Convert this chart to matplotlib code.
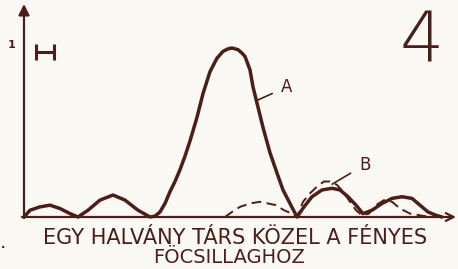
import matplotlib
matplotlib.use("Agg")
import matplotlib.pyplot as plt

# Curve A (bright star, solid): position vs relative intensity
a_x = [0, 6, 16, 26, 36, 46, 54, 64, 76, 89, 101, 114, 126, 131, 136, 141, 146, 151, 156,
       161, 166, 173, 179, 186, 193, 199, 204, 208, 214, 218, 221, 226, 229, 234, 239,
       246, 253, 259, 266, 273, 280, 288, 298, 308, 316, 324, 332, 339, 348, 358, 368,
       378, 388, 396, 404, 412, 418]
a_i = [0.0, 0.04, 0.06, 0.07, 0.05, 0.02, 0.0, 0.04, 0.10, 0.13, 0.10, 0.04, 0.0, 0.005,
       0.03, 0.08, 0.15, 0.21, 0.28, 0.36, 0.45, 0.59, 0.73, 0.86, 0.94, 0.98, 0.995, 1.0,
       0.99, 0.97, 0.95, 0.87, 0.77, 0.65, 0.53, 0.38, 0.26, 0.16, 0.08, 0.0, 0.06, 0.12,
       0.16, 0.17, 0.16, 0.12, 0.07, 0.02, 0.04, 0.08, 0.11, 0.12, 0.11, 0.07, 0.03, 0.01,
       0.0]

# Curve B (faint companion, dashed)
b_x = [201, 208, 216, 226, 236, 244, 252, 260, 268, 273, 279, 286, 293, 300, 306, 313,
       319, 326, 332, 338, 345, 352, 360, 368, 376, 386, 396, 406]
b_i = [0.0, 0.03, 0.06, 0.08, 0.09, 0.08, 0.07, 0.04, 0.02, 0.0, 0.09, 0.14, 0.18, 0.21,
       0.21, 0.19, 0.15, 0.09, 0.04, 0.01, 0.02, 0.07, 0.10, 0.09, 0.05, 0.02, 0.01, 0.0]

label_a = "A"
label_b = "B"
fig_number = "4"
caption_1 = "EGY HALVÁNY TÁRS KÖZEL A FÉNYES"
caption_2 = "FÖCSILLAGHOZ"
y_tick_label = "1"
scale_bar_center = 21
scale_bar_half = 9
scale_bar_level = 0.975

ink = "#4b1e1a"
paper = "#fbf9f4"

fig = plt.figure(figsize=(4.58, 2.69), dpi=100, facecolor=paper)
ax = fig.add_axes([0, 0, 1, 1])
ax.set_facecolor(paper)
ax.set_xlim(-24, 434)
ax.set_ylim(-0.3077, 1.284)
ax.axis("off")

# axes arrows
ax.annotate("", xy=(0, 1.26), xytext=(0, -0.006),
            arrowprops=dict(arrowstyle="-|>", lw=1.6, color=ink, mutation_scale=16,
                            shrinkA=0, shrinkB=0))
ax.annotate("", xy=(432, 0.0), xytext=(-2, 0.0),
            arrowprops=dict(arrowstyle="->", lw=1.6, color=ink, mutation_scale=14,
                            shrinkA=0, shrinkB=0))

ax.plot(a_x, a_i, color=ink, lw=2.5, solid_capstyle="round", solid_joinstyle="round")
ax.plot(b_x, b_i, color=ink, lw=1.4, ls=(0, (5, 2.8)))

# scale bar marker near the y axis
ax.errorbar([scale_bar_center], [scale_bar_level], xerr=[scale_bar_half], color=ink,
            lw=2.2, capsize=6, capthick=2.2, fmt="none")

ax.text(-12, 1.02, y_tick_label, color=ink, fontsize=8, fontweight="bold",
        ha="center", va="center")

ax.annotate(label_a, xy=(233, 0.69), xytext=(263, 0.77), color=ink, fontsize=12,
            ha="center", va="center",
            arrowprops=dict(arrowstyle="-", color=ink, lw=1.2, shrinkA=5, shrinkB=1))
ax.annotate(label_b, xy=(307, 0.19), xytext=(341, 0.31), color=ink, fontsize=12,
            ha="center", va="center",
            arrowprops=dict(arrowstyle="-", color=ink, lw=1.2, shrinkA=5, shrinkB=1))

ax.text(398, 1.035, fig_number, color=ink, fontsize=50, family="DejaVu Sans",
        fontweight="light", ha="center", va="center")

ax.text(-21, -0.15, ".", color=ink, fontsize=14, ha="center", va="center")
ax.text(211, -0.122, caption_1, color=ink, fontsize=15, ha="center", va="center")
ax.text(205, -0.24, caption_2, color=ink, fontsize=14, ha="center", va="center")

fig.savefig("out.png", dpi=100, facecolor=paper)
